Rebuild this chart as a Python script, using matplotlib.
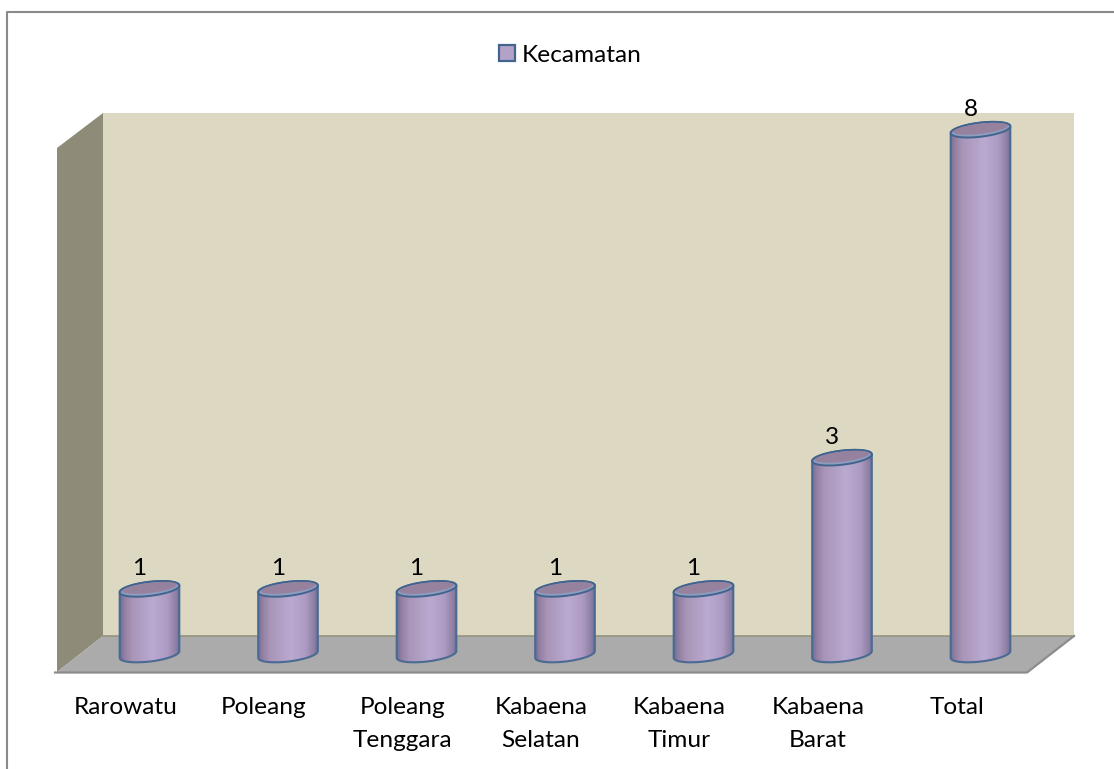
import numpy as np
import matplotlib
matplotlib.use('Agg')
import matplotlib.pyplot as plt
from matplotlib.colors import LinearSegmentedColormap
from matplotlib.patches import Polygon, Rectangle, Patch
from matplotlib.path import Path

plt.rcParams['font.family'] = ['Lato', 'DejaVu Sans']

categories = ['Rarowatu', 'Poleang', 'Poleang\nTenggara', 'Kabaena\nSelatan',
              'Kabaena\nTimur', 'Kabaena\nBarat', 'Total']
values = [1, 1, 1, 1, 1, 3, 8]
series_name = 'Kecamatan'

W, H = 1114, 769
fig = plt.figure(figsize=(W / 100, H / 100), dpi=100, facecolor='white')

# background in pixels: frame (only left and top are in the crop), walls and floor
bg = fig.add_axes([0, 0, 1, 1])
bg.set_xlim(0, W)
bg.set_ylim(H, 0)
bg.axis('off')
bg.plot([7, 7, W], [H, 11.5, 11.5], color='#8A8A8A', lw=1.5)
bg.add_patch(Rectangle((103, 113), 970.5, 523, fc='#DDD8C2', ec='none'))
bg.add_patch(Polygon([(57, 148), (103, 113), (103, 636), (57, 672)], fc='#8E8B78', ec='none'))
bg.add_patch(Polygon([(57, 672), (103, 636), (1074, 636), (1027, 672)], fc='#ABABAB', ec='none'))
bg.plot([103, 1074], [636, 636], color='#96947F', lw=1.2)
bg.plot([55, 1027, 1074], [672.5, 672.5, 636], color='#8C8C8C', lw=1.6)

# data axes, one unit = 138.5 px across and 65.6 px up, half a unit spare below and above
PX, PY = 138.5, 65.6
x0 = 149.5 - 0.5 * PX
ax = fig.add_axes([x0 / W, (H - 654.5 - 0.5 * PY) / H, 7 * PX / W, 9 * PY / H])
ax.set_xlim(-0.5, 6.5)
ax.set_ylim(-0.5, 8.5)
ax.axis('off')

body = LinearSegmentedColormap.from_list('body', [
    (0.0, '#6A6F9C'), (0.06, '#8F7C9F'), (0.2, '#A895B8'), (0.55, '#BAAAD1'),
    (0.8, '#AC9AC2'), (0.94, '#8D7FA3'), (1.0, '#6A7099')])
grad = np.linspace(0, 1, 128).reshape(1, -1)

a, b, tilt = 30.0, 7.0, np.radians(6.8)


def ell(cx, cy, t, ra=a, rb=b):
    # tilted ellipse, radii in px, result in data units
    ex = ra * np.cos(t) * np.cos(tilt) - rb * np.sin(t) * np.sin(tilt)
    ey = ra * np.cos(t) * np.sin(tilt) + rb * np.sin(t) * np.cos(tilt)
    return cx + ex / PX, cy + ey / PY


for i, v in enumerate(values):
    # lower arc of the base, then upper arc of the top
    bx, by = ell(i, 0, np.linspace(np.pi, 2 * np.pi, 60))
    tx, ty = ell(i, v, np.linspace(0, np.pi, 60))
    verts = np.column_stack([np.r_[bx, tx], np.r_[by, ty]])
    path = Path(np.vstack([verts, verts[0]]), closed=True)

    im = ax.imshow(grad, cmap=body, aspect='auto', zorder=2, interpolation='bilinear',
                   extent=[i - a / PX, i + a / PX, -8 / PY, v + 8 / PY])
    im.set_clip_path(path, transform=ax.transData)
    ax.add_patch(Polygon(verts, closed=True, fc='none', ec='#4A6A94', lw=1.5, zorder=3))

    # top face: blue rim, then the darker mauve inner face
    t = np.linspace(0, 2 * np.pi, 120)
    ex, ey = ell(i, v, t)
    ax.add_patch(Polygon(np.column_stack([ex, ey]), closed=True, fc='#8E9CBE',
                         ec='#41648F', lw=1.4, zorder=4))
    ex, ey = ell(i, v + 1 / PY, t, a - 2.5, b - 2)
    ax.add_patch(Polygon(np.column_stack([ex, ey]), closed=True, fc='#96829F',
                         ec='none', zorder=5))

    ax.annotate(str(v), (i, v), xytext=(-10, 20), textcoords='offset pixels',
                ha='center', va='center', fontsize=17.6, color='black', zorder=6,
                annotation_clip=False)
    ax.annotate(categories[i], (i, 0), xytext=(-24, -42), textcoords='offset pixels',
                ha='center', va='top', fontsize=17.6, color='black', linespacing=1.72,
                annotation_clip=False)

handle = Patch(fc='#B3A2C7', ec='#42648F', lw=1.6)
fig.legend([handle], [series_name], loc='center', bbox_to_anchor=(570.5 / W, 1 - 55 / H),
           frameon=False, fontsize=17.6, handlelength=0.66, handleheight=0.66,
           handletextpad=0.28)

fig.savefig('out.png', dpi=100)
